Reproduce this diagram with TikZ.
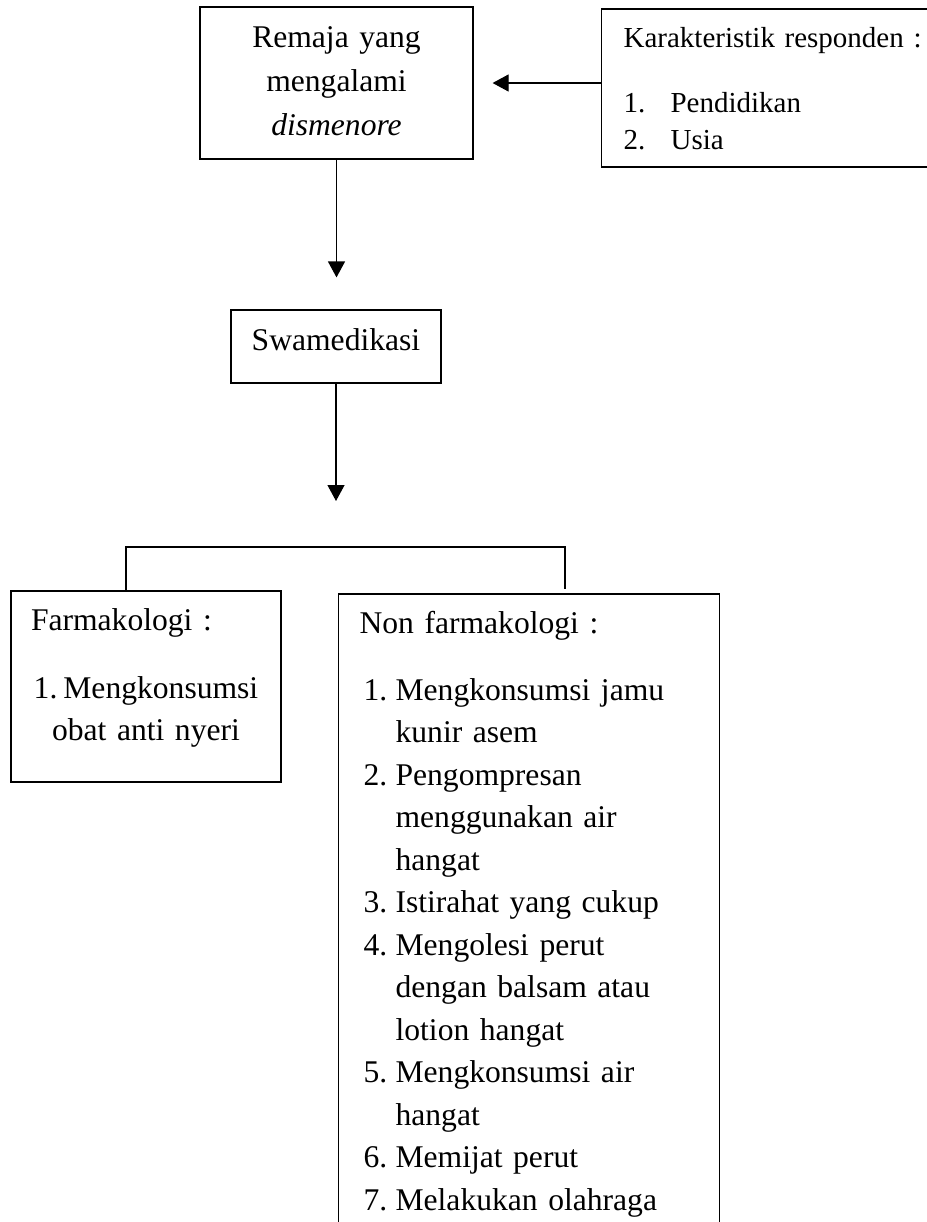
\documentclass[tikz,border=0pt]{standalone}
\usepackage{fontspec}
\setmainfont{Liberation Serif}
\usetikzlibrary{arrows.meta}
\newcommand{\numbox}[1]{\hspace*{2pt}\makebox[16pt][l]{#1}}

\begin{document}
\begin{tikzpicture}[x=0.5pt,y=-0.5pt,line width=0.6pt,
  box/.style={draw,inner ysep=0pt,font=\fontsize{15.8}{21.25}\selectfont},
  arr/.style={-{Triangle[length=8pt,width=8.5pt]}}]
\useasboundingbox (0,0) rectangle (927,1222);
\clip (0,0) rectangle (927,1222);
\node[box,anchor=base,inner xsep=0pt,text width=136.5pt,align=center,text height=20pt,text depth=56pt,font=\fontsize{15.8}{22}\selectfont] (rem) at (336.5,47) {Remaja yang\\mengalami\\\textit{dismenore}};
\node[box,anchor=base west,inner xsep=11pt,text width=165pt,align=left,text height=19pt,text depth=60pt,font=\fontsize{14.5}{18.5}\selectfont] (kar) at (601,47) {Karakteristik responden :\\[14pt]\makebox[23.5pt][l]{1.}Pendidikan\\\makebox[23.5pt][l]{2.}Usia};
\node[box,anchor=base,inner xsep=0pt,text width=105pt,align=center,text height=20pt,text depth=16.5pt] (swa) at (336,350) {Swamedikasi};
\node[box,anchor=base,inner xsep=7.5pt,text width=120pt,align=center,text height=19.5pt,text depth=76pt,font=\fontsize{15.8}{21}\selectfont] (farm) at (146,630) {\hspace*{2.5pt}Farmakologi :\hskip 0pt plus 1filll\mbox{}\\[13pt]\mbox{1.\hspace{3pt}Mengkonsumsi}\\obat anti nyeri};
\node[box,anchor=base west,inner xsep=10.5pt,text width=169.5pt,align=left,text height=19.5pt,text depth=304pt] (nonf) at (338,633) {Non farmakologi :\\[12.25pt]
  \numbox{1.}Mengkonsumsi jamu\\\numbox{}kunir asem\\
  \numbox{2.}Pengompresan\\\numbox{}menggunakan air\\\numbox{}hangat\\
  \numbox{3.}Istirahat yang cukup\\
  \numbox{4.}Mengolesi perut\\\numbox{}dengan balsam atau\\\numbox{}lotion hangat\\
  \numbox{5.}Mengkonsumsi air\\\numbox{}hangat\\
  \numbox{6.}Memijat perut\\
  \numbox{7.}Melakukan olahraga};
\coordinate (brkL) at (126,547);
\coordinate (brkR) at (565,547);
\draw[arr] (kar.west |- rem.east) -- ([xshift=9.5pt]rem.east);
\draw[arr] (rem.south) -- ([yshift=16pt]swa.north -| rem.south);
\draw[arr] (swa.south) -- ([yshift=23pt]swa.south |- brkL);
\draw (farm.north -| brkL) -- (brkL) -- (brkR) -- ([yshift=2pt]nonf.north -| brkR);
\end{tikzpicture}
\end{document}
